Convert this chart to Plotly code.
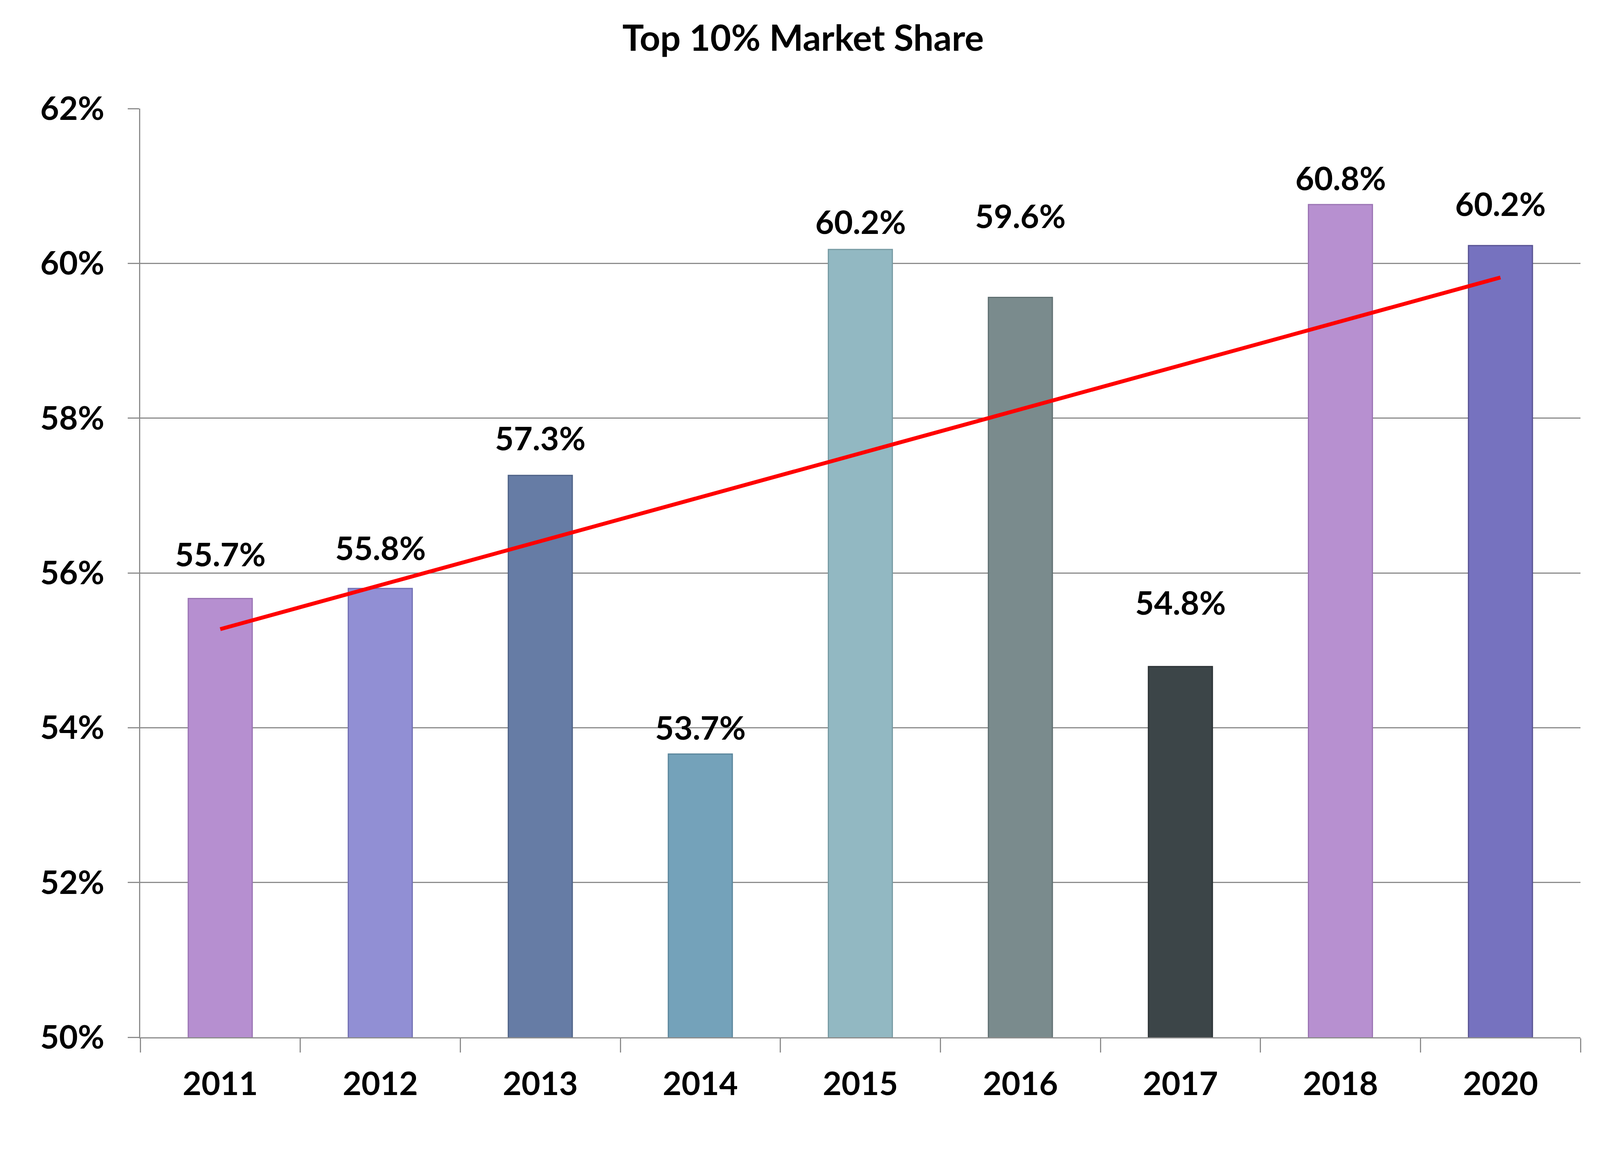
import numpy as np
import plotly.graph_objects as go

# ---- data ----
years = ["2011", "2012", "2013", "2014", "2015", "2016", "2017", "2018", "2020"]
share = [55.67, 55.80, 57.26, 53.66, 60.18, 59.56, 54.79, 60.76, 60.23]
y_ticks = [50, 52, 54, 56, 58, 60, 62]

# ---- styling ----
bar_colors = ["#B68FD0", "#918FD4", "#667CA5", "#74A2BA", "#92B8C2",
              "#7A8B8D", "#3C4548", "#B790D0", "#7672BF"]
bar_lines = ["#9A74B4", "#7371B4", "#4E6286", "#5A869C", "#779BA4",
             "#5F6F71", "#2A3134", "#9B74B4", "#575292"]
label_shift = [114, 105, 96, 69, 72, 210, 165, 69, 108]  # px above bar top (label centre)

FONT = "Lato"
W, H = 4096, 3001
TXT = 83

fig = go.Figure()
fig.add_trace(go.Bar(
    x=years, y=share,
    marker=dict(color=bar_colors, line=dict(color=bar_lines, width=3)),
    width=0.4, showlegend=False, hoverinfo="skip",
))

# linear trend line (least squares fit of the bar values)
idx = np.arange(len(share))
slope, intercept = np.polyfit(idx, share, 1)
trend = [intercept + slope * idx[0], intercept + slope * idx[-1]]
fig.add_trace(go.Scatter(
    x=[years[0], years[-1]], y=trend, mode="lines",
    line=dict(color="#FF0000", width=10), showlegend=False, hoverinfo="skip",
))

for i, (v, s) in enumerate(zip(share, label_shift)):
    fig.add_annotation(
        x=i, y=v, text=f"{v:.1f}%", showarrow=False,
        yanchor="middle", yshift=s,
        font=dict(family=FONT, size=TXT, color="black", weight="bold"),
    )

fig.update_layout(
    width=W, height=H,
    margin=dict(l=351, r=58, t=270, b=353),
    paper_bgcolor="white", plot_bgcolor="white",
    title=dict(text="Top 10% Market Share", x=0.5, xanchor="center",
               y=0.970, yanchor="middle", yref="container",
               font=dict(family=FONT, size=92, color="black", weight="bold")),
    font=dict(family=FONT, color="black"),
    bargap=0.6,
)
fig.update_yaxes(
    range=[50, 62], tickvals=y_ticks, ticktext=[f"{t}%" for t in y_ticks],
    showgrid=True, gridcolor="#8C8C8C", gridwidth=3,
    showline=True, linecolor="#8C8C8C", linewidth=3,
    ticks="outside", ticklen=29, tickwidth=3, tickcolor="#8C8C8C",
    ticklabelstandoff=43,
    tickfont=dict(family=FONT, size=TXT, color="black", weight="bold"),
    zeroline=False,
)
fig.update_xaxes(
    type="category", categoryorder="array", categoryarray=years,
    range=[-0.5, len(years) - 0.5], tickson="boundaries",
    showline=True, linecolor="#8C8C8C", linewidth=3,
    ticks="outside", ticklen=36, tickwidth=3, tickcolor="#8C8C8C",
    ticklabelstandoff=45, tickangle=0,
    tickfont=dict(family=FONT, size=TXT, color="black", weight="bold"),
    showgrid=False,
)

fig.write_html("out.html")
